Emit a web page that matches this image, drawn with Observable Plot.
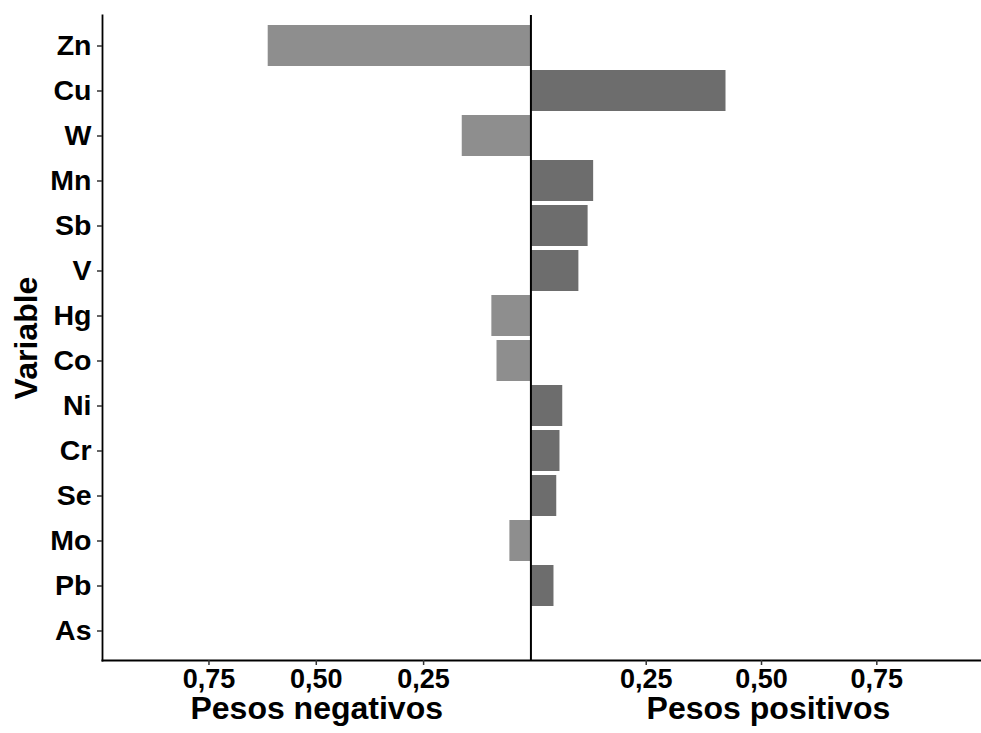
<!DOCTYPE html>
<html><head><meta charset="utf-8">
<script src="https://cdn.jsdelivr.net/npm/d3@7"></script>
<script src="https://cdn.jsdelivr.net/npm/@observablehq/plot@0.6"></script>
<style>body{margin:0;background:#fff}</style>
</head><body><div id="chart"></div>
<script>
const variables = ["Zn","Cu","W","Mn","Sb","V","Hg","Co","Ni","Cr","Se","Mo","Pb","As"];
const weights = [-0.612, 0.423, -0.160, 0.136, 0.124, 0.104, -0.091, -0.079, 0.069, 0.063, 0.056, -0.049, 0.050, 0];
const tickValues = [-0.75, -0.5, -0.25, 0.25, 0.5, 0.75];
const axisTitles = ["Pesos negativos", "Pesos positivos"];
const axisTitlePositions = [-0.499, 0.515];
const yTitle = "Variable";
// the two panels use slightly different scales (positive side is stretched)
const positiveStretch = 1.0743;
const stretch = v => v > 0 ? v * positiveStretch : v;
const unstretch = v => v > 0 ? v / positiveStretch : v;
const xDomain = [-0.998, 0.977 * positiveStretch];

const data = variables.map((v, i) => ({variable: v, weight: weights[i], sign: weights[i] < 0 ? "neg" : "pos"}));
const fmt = d => d3.format(".2f")(Math.abs(unstretch(d))).replace(".", ",");
const font = "'Liberation Sans', Arial, Helvetica, sans-serif";

const chart = Plot.plot({
  width: 981, height: 733,
  marginTop: 15, marginBottom: 73, marginLeft: 102, marginRight: 0,
  style: {fontFamily: font, fontWeight: "bold", color: "#000", background: "#fff"},
  x: {domain: xDomain, transform: stretch},
  y: {domain: variables, paddingInner: 0.1, paddingOuter: 0.15},
  color: {domain: ["neg", "pos"], range: ["#8E8E8E", "#6D6D6D"]},
  marks: [
    Plot.barX(data, {y: "variable", x1: 0, x2: "weight", fill: "sign"}),
    Plot.ruleX([0], {stroke: "#000", strokeWidth: 2}),
    Plot.frame({anchor: "left", stroke: "#000", strokeWidth: 1.8}),
    Plot.frame({anchor: "bottom", stroke: "#000", strokeWidth: 2}),
    Plot.axisY({tickSize: 5, tickPadding: 6, fontSize: 28.5, stroke: "#333", strokeWidth: 1.5, label: null}),
    Plot.axisX({ticks: tickValues.map(stretch), tickFormat: fmt, tickSize: 5, tickPadding: 3, fontSize: 27, stroke: "#333", strokeWidth: 1.5, label: null}),
    Plot.text(axisTitles, {x: (d, i) => axisTitlePositions[i], text: d => d, frameAnchor: "bottom", lineAnchor: "middle", textAnchor: "middle", dy: 48, fontSize: 32}),
    Plot.text([yTitle], {text: d => d, frameAnchor: "left", textAnchor: "middle", lineAnchor: "middle", rotate: -90, dx: -76, fontSize: 32})
  ]
});
document.getElementById("chart").appendChild(chart);
</script>
</body></html>
